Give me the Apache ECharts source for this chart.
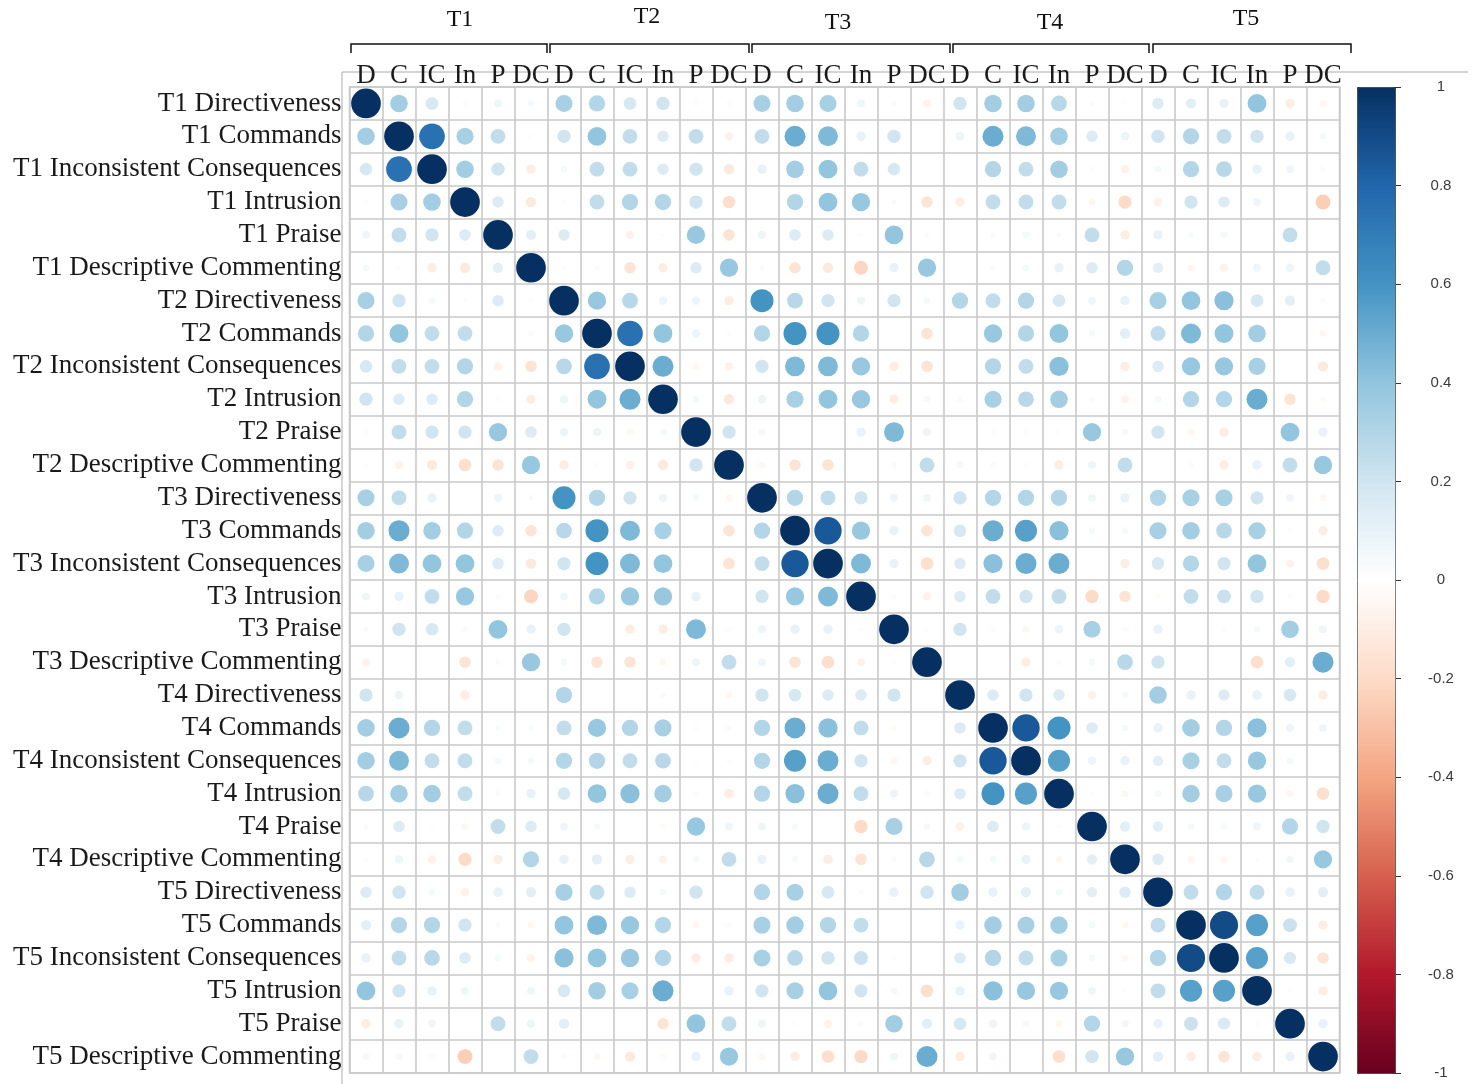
<!DOCTYPE html>
<html>
<head>
<meta charset="utf-8">
<script src="https://cdn.jsdelivr.net/npm/echarts@6/dist/echarts.min.js"></script>
<style>
  html, body { margin: 0; padding: 0; background: #fff; }
  #chart { width: 1476px; height: 1084px; }
</style>
</head>
<body>
<div id="chart"></div>
<script>
// time points and measures
var times = ['T1', 'T2', 'T3', 'T4', 'T5'];
var measures = ['Directiveness', 'Commands', 'Inconsistent Consequences', 'Intrusion', 'Praise', 'Descriptive Commenting'];
var shortNames = ['D', 'C', 'IC', 'In', 'P', 'DC'];

// colour bar ticks
var legendTicks = [1, 0.8, 0.6, 0.4, 0.2, 0, -0.2, -0.4, -0.6, -0.8, -1];

// lower triangle of the correlation matrix, one list per variable (row), grouped by time point
var lowerT1 = [
    [],
    [0.35],
    [0.18, 0.75],
    [0.02, 0.33, 0.35],
    [0.07, 0.25, 0.2, 0.15],
    [0.05, 0.02, -0.1, -0.12, 0.12]
];
var lowerT2 = [
    [0.33, 0.2, 0.05, 0.02, 0.15, 0.02],
    [0.3, 0.4, 0.25, 0.25, 0.01, -0.03, 0.38],
    [0.18, 0.25, 0.25, 0.3, -0.08, -0.15, 0.28, 0.75],
    [0.2, 0.15, 0.15, 0.3, -0.02, -0.1, 0.08, 0.4, 0.5],
    [0.02, 0.25, 0.2, 0.2, 0.38, 0.15, 0.08, 0.08, -0.05, 0.05],
    [0.02, -0.08, -0.12, -0.18, -0.15, 0.38, -0.1, 0.02, -0.08, -0.12, 0.2]
];
var lowerT3 = [
    [0.33, 0.25, 0.1, 0.01, 0.08, 0.03, 0.6, 0.3, 0.2, 0.08, 0.05, -0.05],
    [0.35, 0.5, 0.35, 0.3, 0.15, -0.15, 0.28, 0.6, 0.45, 0.33, 0.01, -0.15, 0.3],
    [0.33, 0.45, 0.4, 0.4, 0.15, -0.12, 0.2, 0.6, 0.45, 0.4, 0.01, -0.15, 0.25, 0.85],
    [0.07, 0.1, 0.25, 0.38, 0.02, -0.22, 0.07, 0.3, 0.38, 0.38, 0.1, 0.01, 0.2, 0.38, 0.45],
    [0.03, 0.2, 0.18, 0.03, 0.4, 0.1, 0.2, 0.01, -0.1, -0.1, 0.45, -0.03, 0.08, 0.1, 0.1, 0.02],
    [-0.07, 0.01, 0.01, -0.15, -0.03, 0.38, 0.05, -0.15, -0.15, -0.05, 0.08, 0.25, 0.07, -0.15, -0.18, -0.07, 0.02]
];
var lowerT4 = [
    [0.2, 0.08, 0.01, -0.1, 0, 0.01, 0.3, 0, 0.01, 0.03, 0.01, -0.05, 0.2, 0.18, 0.15, 0.15, 0.2, 0.01],
    [0.35, 0.5, 0.3, 0.25, 0.03, 0.03, 0.25, 0.38, 0.3, 0.33, 0.02, 0.03, 0.3, 0.5, 0.42, 0.25, -0.03, 0.01, 0.15],
    [0.35, 0.45, 0.25, 0.25, 0.05, 0.05, 0.3, 0.3, 0.25, 0.28, -0.02, 0.02, 0.3, 0.55, 0.5, 0.2, -0.05, -0.1, 0.2, 0.85],
    [0.28, 0.35, 0.35, 0.25, 0.03, 0.1, 0.18, 0.4, 0.42, 0.35, 0.02, -0.1, 0.3, 0.42, 0.5, 0.25, 0.08, -0.03, 0.15, 0.6, 0.55],
    [0.03, 0.15, 0.02, -0.05, 0.25, 0.15, 0.07, 0.05, 0.01, -0.03, 0.38, 0.07, 0.07, 0.05, 0.01, -0.2, 0.33, 0.05, -0.08, 0.15, 0.08, 0.02],
    [-0.02, 0.08, -0.08, -0.2, -0.1, 0.3, 0.1, 0.12, -0.1, -0.07, 0.05, 0.25, 0.1, 0.05, -0.1, -0.15, -0.03, 0.28, 0.05, 0.05, 0.1, -0.05, 0.12]
];
var lowerT5 = [
    [0.15, 0.2, 0.05, -0.08, 0.1, 0.12, 0.33, 0.25, 0.15, 0.05, 0.2, 0.01, 0.3, 0.33, 0.18, -0.03, 0.1, 0.2, 0.35, 0.1, 0.12, 0.05, 0.12, 0.15],
    [0.12, 0.3, 0.3, 0.2, 0.03, -0.05, 0.4, 0.45, 0.38, 0.3, -0.05, -0.03, 0.33, 0.35, 0.3, 0.25, 0.01, 0, 0.1, 0.35, 0.33, 0.35, 0.05, -0.05, 0.25],
    [0.1, 0.25, 0.28, 0.15, 0.05, -0.07, 0.42, 0.4, 0.38, 0.3, -0.1, -0.1, 0.33, 0.28, 0.2, 0.22, -0.02, 0.01, 0.15, 0.3, 0.25, 0.33, 0.05, -0.05, 0.3, 0.9],
    [0.4, 0.2, 0.1, 0.07, 0.01, 0.07, 0.18, 0.35, 0.33, 0.5, 0.01, 0.1, 0.2, 0.33, 0.4, 0.2, 0.05, -0.18, 0.1, 0.42, 0.38, 0.38, 0.07, 0.02, 0.25, 0.55, 0.55],
    [-0.1, 0.1, 0.07, 0.01, 0.25, 0.08, 0.12, 0.01, 0.01, -0.15, 0.4, 0.25, 0.07, 0.02, -0.07, -0.03, 0.35, 0.12, 0.18, 0.08, 0.05, -0.05, 0.3, 0.06, 0.1, 0.22, 0.17, 0.02],
    [-0.05, 0.05, -0.03, -0.25, 0.01, 0.25, -0.03, -0.05, -0.12, -0.03, 0.1, 0.38, -0.05, -0.1, -0.18, -0.2, 0.07, 0.5, -0.1, 0.07, 0.01, -0.18, 0.2, 0.38, 0.12, -0.1, -0.15, -0.1, 0.1]
];

// RdBu palette as used by corrplot
var rdBu = ['#67001F', '#B2182B', '#D6604D', '#F4A582', '#FDDBC7', '#FFFFFF',
    '#D1E5F0', '#92C5DE', '#4393C3', '#2166AC', '#053061'];

// 组装标签
var rowLabels = [];
var colLabels = [];
times.forEach(function (t) {
    measures.forEach(function (m, i) {
        rowLabels.push(t + ' ' + m);
        colLabels.push(shortNames[i]);
    });
});

// 组装完整矩阵（对称）
var lower = [].concat(lowerT1, lowerT2, lowerT3, lowerT4, lowerT5);
var n = lower.length;
var points = [];
for (var r = 0; r < n; r++) {
    for (var c = 0; c < n; c++) {
        var v;
        if (r === c) v = 1;
        else if (c < r) v = lower[r][c];
        else v = lower[c][r];
        points.push([c, r, v]);
    }
}

// layout of the plot
var gridLeft = 349.5, gridTop = 87, cell = 33;
var brackets = [[351, 547], [550, 749], [752, 950], [953, 1149], [1153, 1351]];
var groupPos = [[460, 20], [647, 17], [838, 23], [1050, 23], [1246, 19]];

var graphics = [
    { type: 'line', shape: { x1: 342, y1: 72, x2: 1468, y2: 72 }, style: { stroke: '#aaa', lineWidth: 1 }, z: 0 },
    { type: 'line', shape: { x1: 342, y1: 72, x2: 342, y2: 1084 }, style: { stroke: '#aaa', lineWidth: 1 }, z: 0 }
];
brackets.forEach(function (b, i) {
    graphics.push({
        type: 'polyline',
        shape: { points: [[b[0], 53], [b[0], 44], [b[1], 44], [b[1], 53]] },
        style: { stroke: '#111', lineWidth: 1.5, fill: null }
    });
    graphics.push({
        type: 'text',
        x: groupPos[i][0], y: groupPos[i][1],
        style: {
            text: times[i], fontFamily: 'Liberation Serif', fontSize: 24, fill: '#111',
            align: 'center', verticalAlign: 'middle'
        }
    });
});

var labelFont = { fontFamily: 'Liberation Serif', fontSize: 27, color: '#1a1a1a' };

var option = {
    animation: false,
    backgroundColor: '#fff',
    grid: [
        { left: gridLeft, top: gridTop, width: cell * n, height: 986, show: true, borderColor: '#c9c9c9', borderWidth: 1.5 },
        { left: 1394, top: gridTop, width: 1, height: 986 }
    ],
    xAxis: [
        {
            type: 'category', data: colLabels, position: 'top', gridIndex: 0,
            axisLine: { show: false }, axisTick: { show: false },
            axisLabel: Object.assign({ interval: 0, margin: -2 }, labelFont),
            splitLine: { show: true, interval: 0, lineStyle: { color: '#c9c9c9', width: 1.6 } }
        },
        { type: 'value', gridIndex: 1, show: false }
    ],
    yAxis: [
        {
            type: 'category', data: rowLabels, inverse: true, gridIndex: 0,
            axisLine: { show: false }, axisTick: { show: false },
            axisLabel: Object.assign({ interval: 0, margin: 8 }, labelFont),
            splitLine: { show: true, interval: 0, lineStyle: { color: '#c9c9c9', width: 1.6 } }
        },
        {
            type: 'value', gridIndex: 1, position: 'right', min: -1, max: 1, interval: 0.2,
            axisLine: { show: false },
            axisTick: { show: true, length: 7, lineStyle: { color: '#333' } },
            splitLine: { show: false },
            axisLabel: {
                margin: 46, align: 'center', fontFamily: 'Liberation Sans', fontSize: 15, color: '#3a3a3a',
                formatter: function (v) {
                    var r = parseFloat(v.toFixed(1));
                    return legendTicks.indexOf(r) >= 0 ? String(r) : '';
                }
            }
        }
    ],
    visualMap: {
        type: 'continuous', min: -1, max: 1, dimension: 2, seriesIndex: 0,
        calculable: false, hoverLink: false,
        orient: 'vertical', left: 1357, top: gridTop,
        itemWidth: 38, itemHeight: 986, padding: 0,
        borderColor: '#333', borderWidth: 1,
        inRange: { color: rdBu }
    },
    series: [{
        type: 'scatter',
        xAxisIndex: 0, yAxisIndex: 0,
        data: points,
        symbol: 'circle',
        symbolSize: function (d) {
            return Math.sqrt(Math.abs(d[2])) * cell * 0.9;
        },
        itemStyle: { opacity: 1 },
        emphasis: { disabled: true },
        z: 3
    }],
    graphic: graphics
};

var chart = echarts.init(document.getElementById('chart'));
chart.setOption(option);
</script>
</body>
</html>
